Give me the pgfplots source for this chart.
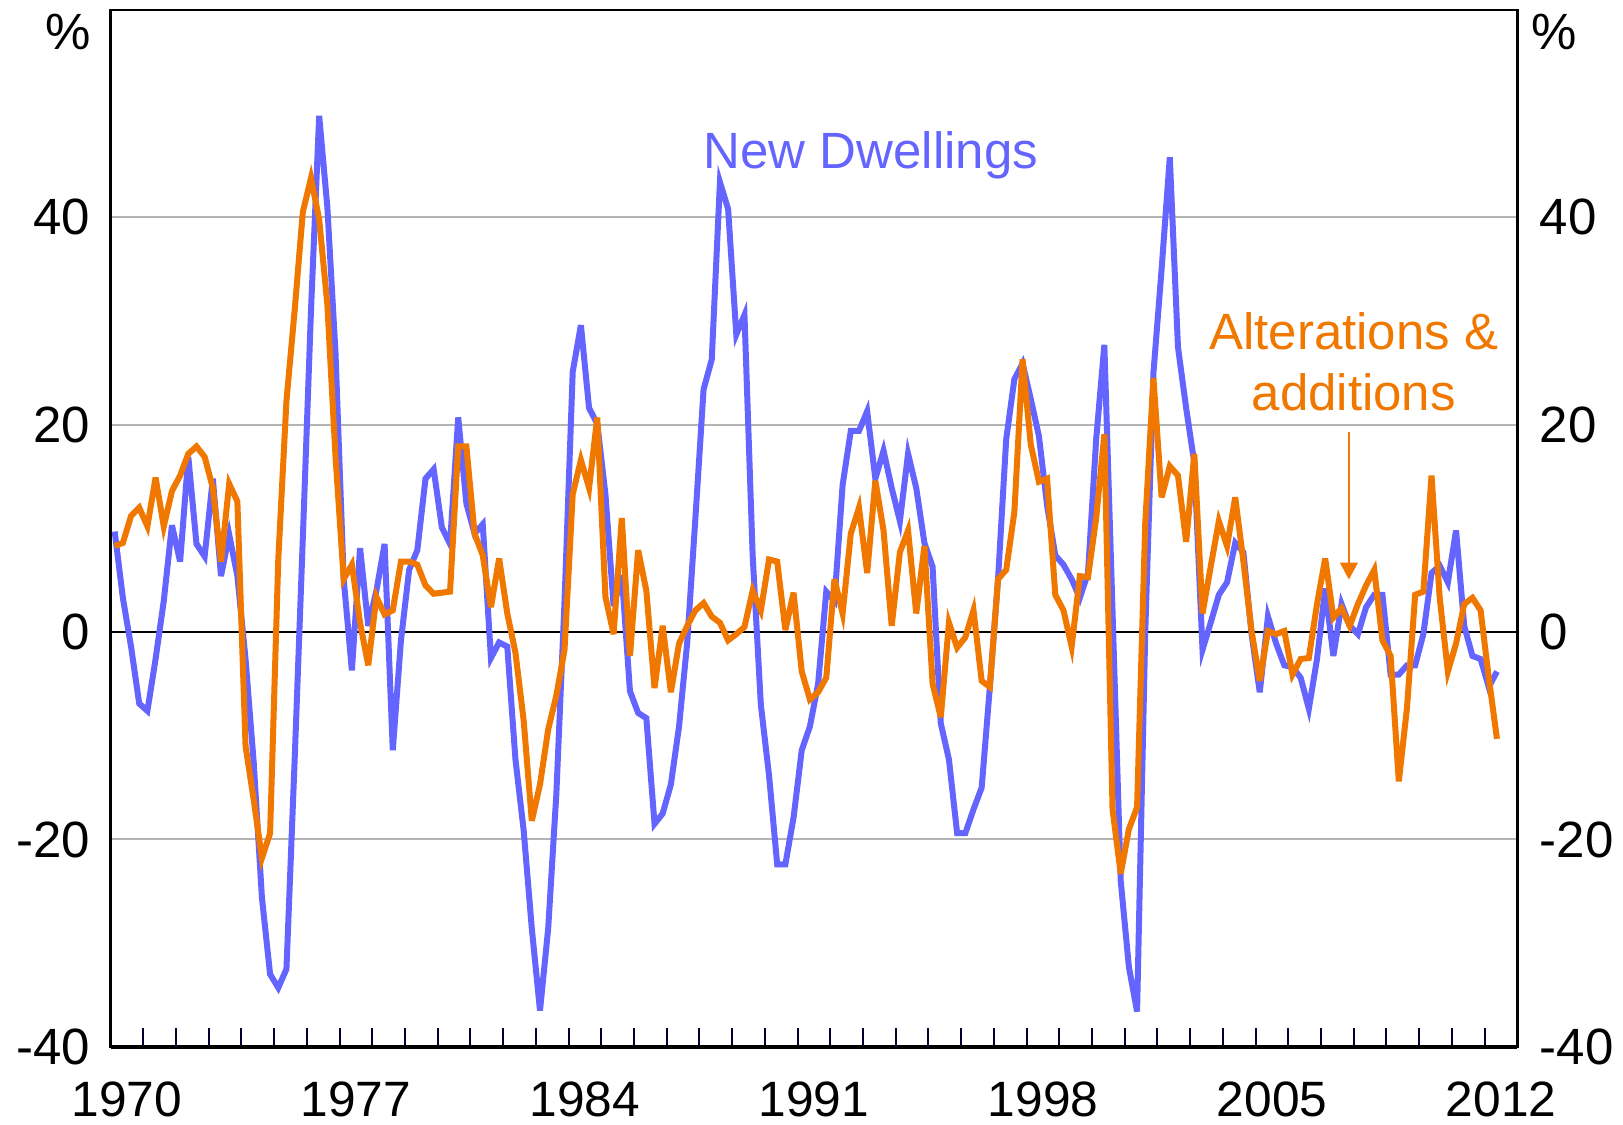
\documentclass[border=0pt]{standalone}
\usepackage{pgfplots}
\pgfplotsset{compat=1.18}
\usepackage{pgfplotstable}
\usetikzlibrary{arrows.meta}
\usepackage{fontspec}
\setmainfont{Liberation Sans}
\definecolor{ndblue}{RGB}{100,100,255}
\definecolor{aaorange}{RGB}{240,120,0}
\definecolor{gridgrey}{RGB}{180,180,180}
\definecolor{tickc}{RGB}{0,0,50}

\pgfplotstableread{
x b o
1970.125 9.7 8.3
1970.375 3.3 8.6
1970.625 -1.4 11.2
1970.875 -6.9 12.0
1971.125 -7.6 10.2
1971.375 -2.6 14.9
1971.625 3.0 10.2
1971.875 10.3 13.6
1972.125 6.8 15.1
1972.375 16.9 17.2
1972.625 8.5 17.9
1972.875 7.3 16.9
1973.125 14.8 13.9
1973.375 5.4 6.8
1973.625 9.4 14.3
1973.875 5.4 12.6
1974.125 -2.6 -11.0
1974.375 -12.6 -16.2
1974.625 -25.6 -21.8
1974.875 -33.0 -19.4
1975.125 -34.3 7.0
1975.375 -32.5 22.3
1975.625 -12.4 31.0
1975.875 9.0 40.5
1976.125 31.0 43.8
1976.375 49.8 39.8
1976.625 41.0 31.6
1976.875 26.9 16.9
1977.125 5.1 5.1
1977.375 -3.7 6.5
1977.625 8.1 0.9
1977.875 0.6 -3.2
1978.125 4.0 3.4
1978.375 8.5 1.7
1978.625 -11.4 2.1
1978.875 -0.8 6.8
1979.125 6.0 6.8
1979.375 7.9 6.5
1979.625 14.8 4.5
1979.875 15.7 3.7
1980.125 10.1 3.8
1980.375 8.5 3.9
1980.625 20.7 17.9
1980.875 12.4 17.9
1981.125 9.5 9.5
1981.375 10.4 7.4
1981.625 -2.5 2.4
1981.875 -1.0 7.1
1982.125 -1.4 1.8
1982.375 -12.3 -2.0
1982.625 -19.1 -8.5
1982.875 -28.6 -18.2
1983.125 -36.5 -14.7
1983.375 -28.6 -9.4
1983.625 -15.6 -6.1
1983.875 3.0 -1.7
1984.125 25.1 13.3
1984.375 29.6 16.6
1984.625 21.6 13.9
1984.875 20.1 20.7
1985.125 13.3 3.4
1985.375 2.5 -0.2
1985.625 5.5 11.0
1985.875 -5.7 -2.3
1986.125 -7.8 7.9
1986.375 -8.3 4.0
1986.625 -18.5 -5.4
1986.875 -17.5 0.6
1987.125 -14.7 -5.8
1987.375 -9.1 -1.1
1987.625 -1.0 0.6
1987.875 11.0 2.1
1988.125 23.4 2.8
1988.375 26.3 1.5
1988.625 43.4 0.9
1988.875 40.8 -0.8
1989.125 28.7 -0.2
1989.375 30.6 0.5
1989.625 7.4 4.0
1989.875 -7.0 2.1
1990.125 -13.8 7.0
1990.375 -22.4 6.8
1990.625 -22.4 0.2
1990.875 -17.9 3.8
1991.125 -11.4 -3.8
1991.375 -9.1 -6.5
1991.625 -5.0 -5.8
1991.875 3.9 -4.4
1992.125 3.0 5.1
1992.375 14.2 1.8
1992.625 19.4 9.5
1992.875 19.4 12.0
1993.125 21.3 5.7
1993.375 14.8 14.6
1993.625 17.5 9.8
1993.875 13.9 0.6
1994.125 10.7 7.7
1994.375 17.2 9.8
1994.625 13.9 1.8
1994.875 8.6 8.3
1995.125 6.3 -5.0
1995.375 -8.8 -8.2
1995.625 -12.3 0.9
1995.875 -19.4 -1.5
1996.125 -19.4 -0.5
1996.375 -17.1 2.1
1996.625 -15.0 -4.7
1996.875 -5.3 -5.3
1997.125 5.1 5.1
1997.375 18.6 6.0
1997.625 24.4 11.6
1997.875 25.9 26.3
1998.125 22.5 18.1
1998.375 18.9 14.5
1998.625 12.2 14.8
1998.875 7.4 3.6
1999.125 6.5 2.1
1999.375 5.1 -1.4
1999.625 3.3 5.4
1999.875 5.7 5.3
2000.125 18.6 11.0
2000.375 27.7 19.1
2000.625 2.0 -17.1
2000.875 -24.0 -23.3
2001.125 -32.3 -19.0
2001.375 -36.6 -16.9
2001.625 0.0 10.5
2001.875 25.0 24.5
2002.125 35.0 13.0
2002.375 45.8 16.0
2002.625 27.5 15.1
2002.875 21.6 8.7
2003.125 16.3 17.2
2003.375 -1.7 1.8
2003.625 0.9 6.3
2003.875 3.6 10.7
2004.125 4.8 8.3
2004.375 8.6 13.0
2004.625 7.7 6.8
2004.875 -0.2 0.1
2005.125 -5.8 -4.7
2005.375 1.5 0.1
2005.625 -1.1 -0.2
2005.875 -3.2 0.1
2006.125 -3.4 -4.1
2006.375 -4.4 -2.6
2006.625 -7.4 -2.5
2006.875 -2.6 2.7
2007.125 4.2 7.1
2007.375 -2.3 1.4
2007.625 2.7 2.3
2007.875 0.6 0.6
2008.125 -0.2 2.7
2008.375 2.4 4.5
2008.625 3.6 6.0
2008.875 3.6 -0.8
2009.125 -4.1 -2.3
2009.375 -4.1 -14.4
2009.625 -3.2 -7.3
2009.875 -3.2 3.6
2010.125 -0.2 3.9
2010.375 5.7 15.1
2010.625 6.4 3.3
2010.875 4.8 -3.8
2011.125 9.8 -1.1
2011.375 0.6 2.7
2011.625 -2.3 3.3
2011.875 -2.6 2.1
2012.125 -5.3 -4.4
2012.375 -3.8 -10.3
}\datatable

\begin{document}
\fontsize{15.3}{18}\selectfont
\begin{tikzpicture}
\path[use as bounding box] (-33.18pt,-23.16pt) rectangle (453.72pt,314.04pt);
\begin{axis}[
  at={(0pt,0pt)}, anchor=south west,
  scale only axis, width=422.04pt, height=311.04pt,
  xmin=1970, xmax=2013, ymin=-40, ymax=60,
  xtick={1970.5,1977.5,1984.5,1991.5,1998.5,2005.5,2012.5},
  xticklabels={1970,1977,1984,1991,1998,2005,2012},
  minor xtick={1971,1972,...,2012},
  xtick pos=lower,
  ytick={-40,-20,0,20,40},
  yticklabels={-40,-20,0,20,40},
  ytick pos=left,
  major tick length=0pt,
  minor tick length=5.7pt,
  minor tick style={tickc, line width=0.6pt},
  ymajorgrids, grid style={gridgrey, line width=0.6pt},
  axis line style={line width=0.8pt},
  tick label style={font=\fontsize{15.3}{18}\selectfont},
  xticklabel style={inner sep=0pt, anchor=north, yshift=-10.3pt, font=\fontsize{14.9}{18}\selectfont},
  yticklabel style={inner sep=0pt, anchor=east, xshift=-5.9pt},
  clip mode=individual,
]
\draw[black, line width=0.6pt] (axis cs:1970,0) -- (axis cs:2013,0);
\addplot[ndblue, line width=1.8pt, mark=none, miter limit=6] table[x=x, y=b] {\datatable};
\addplot[aaorange, line width=1.8pt, mark=none, miter limit=6] table[x=x, y=o] {\datatable};
\draw[line width=1.1pt] (rel axis cs:0,0) -- (rel axis cs:1,0);
\node[ndblue, anchor=base] at (axis cs:1993.24,44.7) {New Dwellings};
\node[aaorange, anchor=base] at (axis cs:2008.0,27.3) {Alterations \&};
\node[aaorange, anchor=base] at (axis cs:2008.0,21.4) {additions};
\draw[aaorange, line width=0.4pt, -{Triangle[width=5.4pt,length=5.1pt]}] (axis cs:2007.85,19.25) -- (axis cs:2007.85,5.07);
\node at (axis cs:1968.7,57.86) {\%};
\node at (axis cs:2014.13,57.86) {\%};
\end{axis}
\begin{axis}[
  at={(0pt,0pt)}, anchor=south west,
  scale only axis, width=422.04pt, height=311.04pt,
  xmin=1970, xmax=2013, ymin=-40, ymax=60,
  xtick=\empty,
  ytick={-40,-20,0,20,40},
  yticklabels={-40,-20,0,20,40},
  ytick pos=right, yticklabel pos=right,
  major tick length=0pt,
  axis line style={draw=none},
  tick label style={font=\fontsize{15.3}{18}\selectfont},
  yticklabel style={inner sep=0pt, anchor=west, xshift=6.5pt},
]
\addplot[draw=none] coordinates {(1990,0)};
\end{axis}
\end{tikzpicture}
\end{document}
